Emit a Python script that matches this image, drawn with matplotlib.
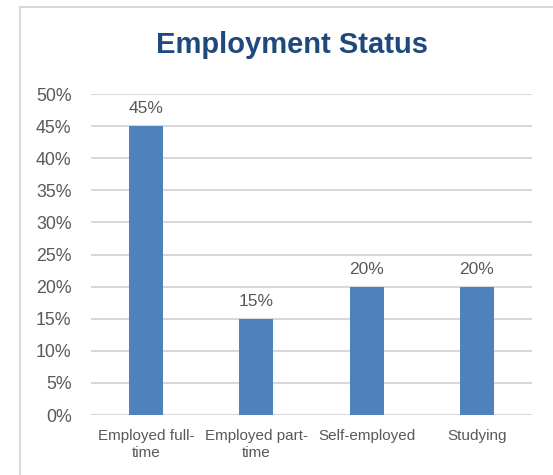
import matplotlib.pyplot as plt
from matplotlib.lines import Line2D
from matplotlib.ticker import PercentFormatter

plt.rcParams['font.family'] = ['Liberation Sans', 'DejaVu Sans']

# employment breakdown
categories = ["Employed full-\ntime", "Employed part-\ntime", "Self-employed", "Studying"]
shares = [0.45, 0.15, 0.20, 0.20]
ticks = [0.0, 0.05, 0.10, 0.15, 0.20, 0.25, 0.30, 0.35, 0.40, 0.45, 0.50]

text_grey = "#595959"
grid_grey = "#D9D9D9"

fig = plt.figure(figsize=(5.53, 4.75), dpi=100)
ax = fig.add_axes([91 / 553, 1 - 415 / 475, 441 / 553, 321 / 475])

x = range(len(categories))
bars = ax.bar(x, shares, width=0.31, color="#4F81BD", zorder=3)
for b, v in zip(bars, shares):
    ax.annotate(f"{v:.0%}", (b.get_x() + b.get_width() / 2, v), xytext=(0, 7),
                textcoords="offset points", ha="center", va="bottom",
                fontsize=12.5, color=text_grey)

ax.set_xlim(-0.5, len(categories) - 0.5)
ax.set_ylim(0, 0.5)
ax.set_yticks(ticks)
ax.yaxis.set_major_formatter(PercentFormatter(1.0, decimals=0))
ax.set_xticks(list(x))
ax.set_xticklabels(categories, fontsize=11, color=text_grey, linespacing=1.25)
ax.tick_params(axis="y", labelsize=12.8, colors=text_grey, length=0, pad=14)
ax.tick_params(axis="x", length=0, pad=10)
ax.grid(axis="y", color=grid_grey, linewidth=1.5, zorder=0)
for s in ax.spines.values():
    s.set_visible(False)

fig.text(292 / 553, 1 - 45 / 475, "Employment Status", ha="center", va="center",
         fontsize=21, fontweight="bold", color="#1F497D")

# chart frame (left and top edges)
fig.add_artist(Line2D([20 / 553, 20 / 553], [0, 1 - 7 / 475], color=grid_grey,
                      linewidth=1.5, transform=fig.transFigure))
fig.add_artist(Line2D([20 / 553, 1], [1 - 7 / 475, 1 - 7 / 475], color=grid_grey,
                      linewidth=1.5, transform=fig.transFigure))

fig.savefig("out.png", dpi=100)
